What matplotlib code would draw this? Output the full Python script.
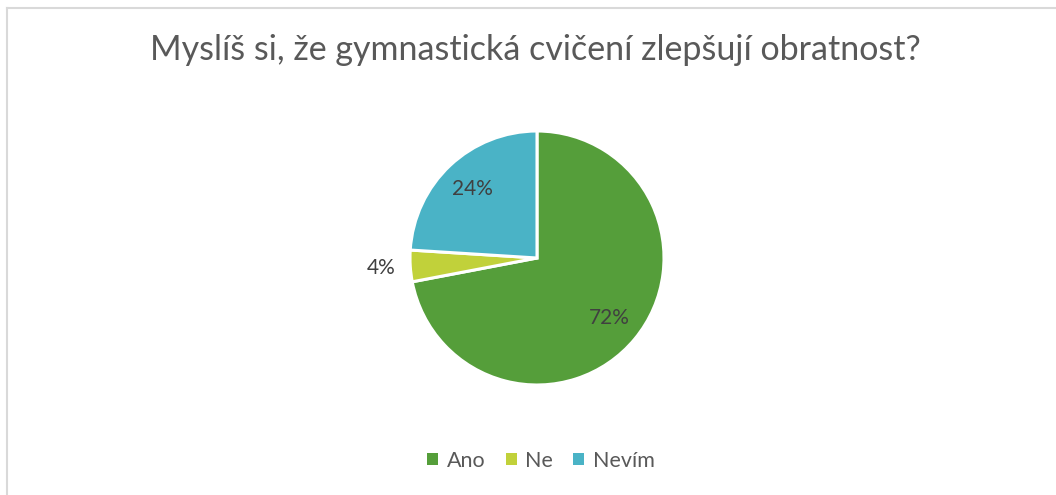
import matplotlib
matplotlib.use("Agg")
import matplotlib.pyplot as plt
from matplotlib.lines import Line2D
from matplotlib.patches import Patch

plt.rcParams["font.family"] = ["Lato", "DejaVu Sans"]

# data
labels = ["Ano", "Ne", "Nevím"]
shares = [72, 4, 24]
colors = ["#559E3A", "#C1D13A", "#4AB3C6"]

TXT = "#595959"

fig = plt.figure(figsize=(10.56, 4.95), dpi=100, facecolor="white")

# light frame (top and left edges)
fig.add_artist(Line2D([7/1056, 1], [1 - 8/495] * 2, color="#D9D9D9", lw=1.5))
fig.add_artist(Line2D([7/1056] * 2, [0, 1 - 8/495], color="#D9D9D9", lw=1.5))

fig.text(535/1056, 1 - 50/495, "Myslíš si, že gymnastická cvičení zlepšují obratnost?",
         ha="center", va="center", fontsize=24.5, color=TXT)

cx, cy, r = 537, 258, 127
ax = fig.add_axes([(cx - r)/1056, (495 - cy - r)/495, 2*r/1056, 2*r/495])
wedges, texts, autotexts = ax.pie(shares, colors=colors, startangle=90, counterclock=False,
                                  radius=1, autopct="%d%%", pctdistance=0.74,
                                  wedgeprops=dict(edgecolor="white", linewidth=2.2),
                                  textprops=dict(fontsize=15, color="#404040"))
# small slice label sits outside the pie
autotexts[1].set_position((-1.23, -0.08))
ax.set_xlim(-1.0, 1.0); ax.set_ylim(-1.0, 1.0)
ax.set_aspect("equal")
ax.axis("off")
for w in wedges:
    w.set_clip_on(False)

handles = [Patch(facecolor=c, edgecolor="none") for c in colors]
fig.legend(handles, labels, loc="center", bbox_to_anchor=(541/1056, 1 - 461/495),
           ncol=3, frameon=False, fontsize=15.5, labelcolor=TXT,
           handlelength=0.5, handleheight=0.5, handletextpad=0.4, columnspacing=0.95)

fig.savefig("out.png", dpi=100, facecolor="white")
